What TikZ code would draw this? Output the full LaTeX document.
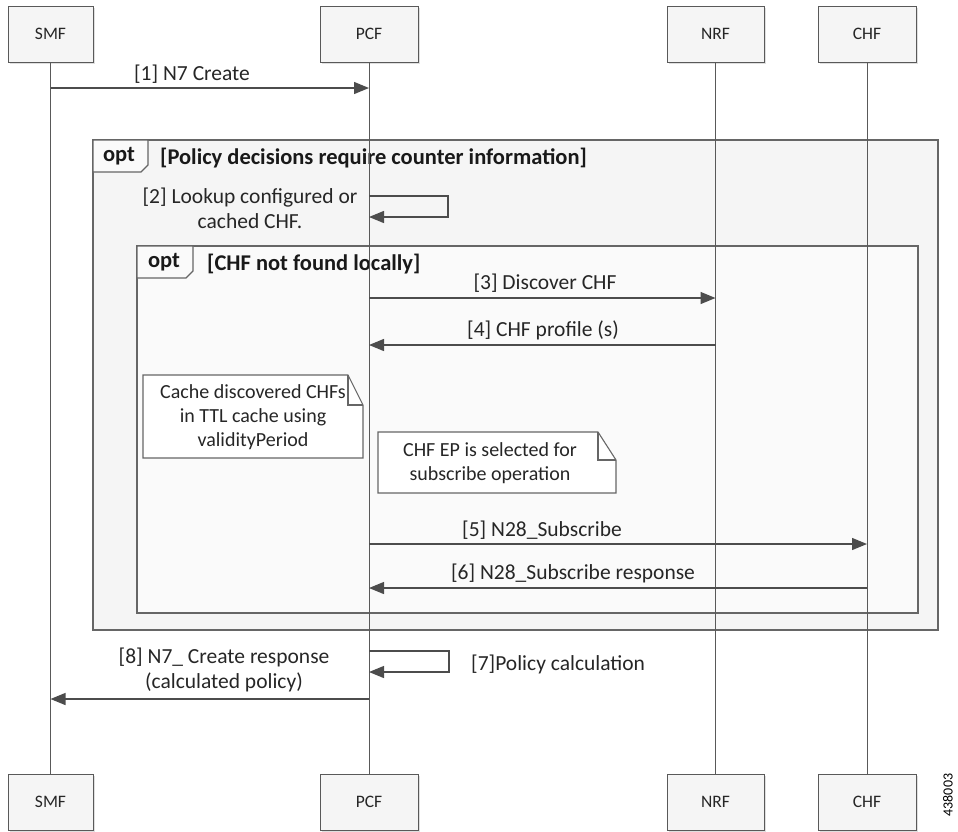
\documentclass[tikz,border=0pt]{standalone}
\usepackage{fontspec}
\setmainfont{Carlito}
\usetikzlibrary{arrows.meta,shadows}

\tikzset{
  ent/.style={draw=black!65, fill=black!4, minimum height=56pt, inner sep=0pt,
    font=\fontsize{17.5}{20}\selectfont, text=black!85,
    drop shadow={shadow xshift=2pt, shadow yshift=-2pt, opacity=.25}},
  life/.style={draw=black!65, line width=1pt},
  msg/.style={draw=black!70, line width=1.3pt, -{Triangle[length=15pt,width=12pt]}},
  lbl/.style={font=\fontsize{21.5}{25}\selectfont, text=black!85, inner sep=0pt, align=center},
  cond/.style={font=\bfseries\fontsize{22.5}{25}\selectfont, text=black!90, inner sep=0pt},
  frame/.style={draw=black!60, line width=1.3pt},
  tab/.style={draw=black!60, line width=1.2pt, fill=black!2},
  note/.style={draw=black!60, line width=1.1pt, fill=white},
  notetext/.style={font=\fontsize{20}{24}\selectfont, text=black!85, inner sep=0pt, align=center},
}

\begin{document}
\begin{tikzpicture}[x=1pt, y=-1pt]
    \useasboundingbox (0,0) rectangle (958,831);
    % opt frames
    \draw[frame, fill=black!4] (93,140) rectangle (938,630);
    \draw[tab] (93,140) -- (148,140) -- (148,165) -- (141,172) -- (93,172) -- cycle;
    \node[cond] (opt1) at (119,156) {opt};
    \node[cond, anchor=west] (g1) at (160,158) {[Policy decisions require counter information]};
    \draw[frame, fill=black!2] (137,246) rectangle (918,613);
    \draw[tab] (137,246) -- (193,246) -- (193,271) -- (186,278) -- (137,278) -- cycle;
    \node[cond] (opt2) at (164,262) {opt};
    \node[cond, anchor=west] (g2) at (207,264) {[CHF not found locally]};
    % entities and lifelines
    \foreach \n/\t/\x/\w in {smf/SMF/50.5/85, pcf/PCF/369/98, nrf/NRF/715.5/97, chf/CHF/867/98}
        {
            \node[ent, minimum width=\w pt] (\n) at (\x,34) {\t};
            \node[ent, minimum width=\w pt] (\n b) at (\x,802) {\t};
            \draw[life] (\n) -- (\n b);
        }
    % messages
    \coordinate (y1) at (0,88);
    \draw[msg] (smf |- y1) -- (pcf |- y1);
    \node[lbl] (l1) at (192,74) {[1] N7 Create};
    \coordinate (y2) at (0,196); \coordinate (y2b) at (0,217);
    \draw[msg] (pcf |- y2) -- ++(79,0) -- ++(0,21) -- (pcf |- y2b);
    \node[lbl] (l2) at (250,208) {[2] Lookup configured or\\cached CHF.};
    \coordinate (y3) at (0,298);
    \draw[msg] (pcf |- y3) -- (nrf |- y3);
    \node[lbl] (l3) at (545,283) {[3] Discover CHF};
    \coordinate (y4) at (0,345);
    \draw[msg] (nrf |- y4) -- (pcf |- y4);
    \node[lbl] (l4) at (543,330) {[4] CHF profile (s)};
    % notes
    \draw[note] (143,375) -- (348,375) -- (363,405) -- (363,458) -- (143,458) -- cycle;
    \draw[note, fill=none] (348,375) -- (348,405) -- (363,405);
    \node[notetext] (n1) at (253,417) {Cache discovered CHFs\\in TTL cache using\\validityPeriod};
    \draw[note] (378,432) -- (598,432) -- (616,460) -- (616,493) -- (378,493) -- cycle;
    \draw[note, fill=none] (598,432) -- (598,460) -- (616,460);
    \node[notetext] (n2) at (490,463) {CHF EP is selected for\\subscribe operation};
    \coordinate (y5) at (0,544);
    \draw[msg] (pcf |- y5) -- (chf |- y5);
    \node[lbl] (l5) at (542,530) {[5] N28\_Subscribe};
    \coordinate (y6) at (0,588);
    \draw[msg] (chf |- y6) -- (pcf |- y6);
    \node[lbl] (l6) at (573,573) {[6] N28\_Subscribe response};
    \coordinate (y7) at (0,651); \coordinate (y7b) at (0,672);
    \draw[msg] (pcf |- y7) -- ++(80,0) -- ++(0,21) -- (pcf |- y7b);
    \node[lbl, anchor=west] (l7) at (471,664) {[7]Policy calculation};
    \coordinate (y8) at (0,699);
    \draw[msg] (pcf |- y8) -- (smf |- y8);
    \node[lbl] (l8) at (224,670) {[8] N7\_ Create response\\(calculated policy)};
    \node[rotate=90, font=\fontsize{14}{16}\selectfont] (fig) at (948,795) {438003};
\end{tikzpicture}
\end{document}
